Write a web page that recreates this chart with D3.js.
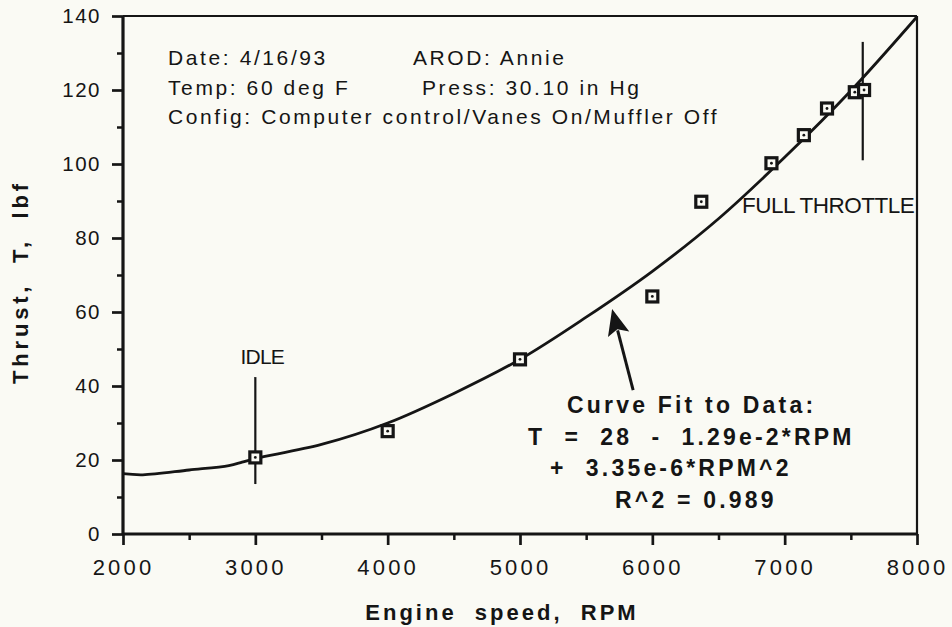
<!DOCTYPE html>
<html>
<head>
<meta charset="utf-8">
<script src="https://cdn.jsdelivr.net/npm/d3@7"></script>
<style>
  html, body { margin: 0; padding: 0; background: #fafaf4; }
  svg { display: block; }
  text { font-family: "Liberation Sans", Arial, Helvetica, sans-serif; fill: #151515; }
</style>
</head>
<body>
<svg id="chart" width="952" height="627"></svg>
<script>
// ---------------- data ----------------
const xTicks = [2000, 3000, 4000, 5000, 6000, 7000, 8000];
const xMinor = [2500, 3500, 4500, 5500, 6500, 7500];
const yTicks = [0, 20, 40, 60, 80, 100, 120, 140];
const yMinor = [10, 30, 50, 70, 90, 110, 130];

// measured thrust points (RPM, lbf)
const pointRPM    = [3000, 4000, 5000, 6000, 6370, 6900, 7145, 7320, 7530, 7600];
const pointThrust = [20.7, 27.8, 47.2, 64.2, 89.8, 100.2, 107.8, 115.0, 119.4, 120.0];

// fitted curve as drawn
const curveRPM    = [2000, 2150, 2500, 2800, 2900, 3000, 3500, 4000, 4500, 5000, 5500, 6000, 6500, 7000, 7500, 8000];
const curveThrust = [16.3, 16.0, 17.3, 18.5, 19.4, 20.4, 24.2, 30.0, 38.0, 47.2, 58.6, 71.0, 85.2, 101.8, 119.8, 139.8];

// range markers
const idleMarker     = { rpm: 3000, lo: 13.5, hi: 42.4 };
const throttleMarker = { rpm: 7590, lo: 101, hi: 133 };
// arrow (tail -> tip) in data units
const arrowTail = [5855, 38.9];
const arrowTip  = [5696, 60.8];

const headerLines = [
  ["Date: 4/16/93", "AROD: Annie"],
  ["Temp: 60 deg F", "Press: 30.10 in Hg"],
  ["Config: Computer control/Vanes On/Muffler Off", ""]
];
const fitLines = ["Curve Fit to Data:", "T  =  28  -  1.29e-2*RPM", "+  3.35e-6*RPM^2", "R^2 = 0.989"];

// ---------------- layout ----------------
const svg = d3.select("#chart");
const L = 123, T = 16, W = 794, H = 518;
const x = d3.scaleLinear().domain([2000, 8000]).range([L, L + W]);
const y = d3.scaleLinear().domain([0, 140]).range([T + H, T]);
const ink = "#151515";

// frame top/right
svg.append("line").attr("x1", L).attr("x2", L + W).attr("y1", T).attr("y2", T)
  .attr("stroke", ink).attr("stroke-width", 2.2);
svg.append("line").attr("x1", L + W).attr("x2", L + W).attr("y1", T).attr("y2", T + H)
  .attr("stroke", ink).attr("stroke-width", 2.2);

// minor ticks
svg.append("g").attr("transform", `translate(0,${T + H})`)
  .call(d3.axisBottom(x).tickValues(xMinor).tickSize(6).tickFormat(""))
  .call(g => { g.select(".domain").remove(); g.selectAll("line").attr("stroke", ink).attr("stroke-width", 2.5); });
svg.append("g").attr("transform", `translate(${L},0)`)
  .call(d3.axisLeft(y).tickValues(yMinor).tickSize(6).tickFormat(""))
  .call(g => { g.select(".domain").remove(); g.selectAll("line").attr("stroke", ink).attr("stroke-width", 2.5); });

// major axes
const xAxis = svg.append("g").attr("transform", `translate(0,${T + H})`)
  .call(d3.axisBottom(x).tickValues(xTicks).tickSize(11).tickPadding(14).tickFormat(d3.format("d")));
xAxis.select(".domain").attr("stroke", ink).attr("stroke-width", 3.2).attr("d", `M${L},0H${L + W}`);
xAxis.selectAll("line").attr("stroke", ink).attr("stroke-width", 2.7);
xAxis.selectAll("text").attr("font-size", 22).attr("letter-spacing", 3.2)
  .attr("fill", ink).style("font-family", "'Liberation Sans', Arial, sans-serif");

const yAxis = svg.append("g").attr("transform", `translate(${L},0)`)
  .call(d3.axisLeft(y).tickValues(yTicks).tickSize(11).tickPadding(11).tickFormat(d3.format("d")));
yAxis.select(".domain").attr("stroke", ink).attr("stroke-width", 3.2).attr("d", `M0,${T}V${T + H}`);
yAxis.selectAll("line").attr("stroke", ink).attr("stroke-width", 2.7);
yAxis.selectAll("text").attr("font-size", 20.5).attr("letter-spacing", 1.5)
  .attr("fill", ink).style("font-family", "'Liberation Sans', Arial, sans-serif");

// axis titles
svg.append("text").attr("x", 502).attr("y", 620).attr("text-anchor", "middle")
  .attr("font-size", 22).attr("font-weight", "bold").attr("letter-spacing", 3)
  .style("white-space", "pre").text("Engine  speed,  RPM");
svg.append("text").attr("transform", "translate(28,282) rotate(-90)").attr("text-anchor", "middle")
  .attr("font-size", 22).attr("font-weight", "bold").attr("letter-spacing", 3.8)
  .style("white-space", "pre").text("Thrust,  T,  lbf");

// curve
const curveData = curveRPM.map((r, i) => [r, curveThrust[i]]);
svg.append("path").datum(curveData)
  .attr("d", d3.line().x(d => x(d[0])).y(d => y(d[1])).curve(d3.curveCatmullRom.alpha(0.5)))
  .attr("fill", "none").attr("stroke", ink).attr("stroke-width", 2.8);

// range markers
[idleMarker, throttleMarker].forEach(m => {
  svg.append("line").attr("x1", x(m.rpm)).attr("x2", x(m.rpm))
    .attr("y1", y(m.lo)).attr("y2", y(m.hi)).attr("stroke", ink).attr("stroke-width", 2.2);
});

// points
const pts = svg.append("g").selectAll("g").data(pointRPM.map((r, i) => [r, pointThrust[i]])).join("g")
  .attr("transform", d => `translate(${x(d[0])},${y(d[1])})`);
pts.append("rect").attr("x", -5.5).attr("y", -5.5).attr("width", 11).attr("height", 11)
  .attr("fill", "#fafaf4").attr("stroke", ink).attr("stroke-width", 3.2);
pts.append("circle").attr("r", 1.4).attr("fill", ink);

// arrow
const tx = x(arrowTip[0]), ty = y(arrowTip[1]), sx = x(arrowTail[0]), sy = y(arrowTail[1]);
const len = Math.hypot(tx - sx, ty - sy), ux = (tx - sx) / len, uy = (ty - sy) / len;
const hl = 26, hw = 11;
const bx = tx - ux * hl, by = ty - uy * hl;
svg.append("line").attr("x1", sx).attr("y1", sy).attr("x2", bx + ux * 4).attr("y2", by + uy * 4)
  .attr("stroke", ink).attr("stroke-width", 3);
svg.append("path")
  .attr("d", `M${tx},${ty}L${bx - uy * hw},${by + ux * hw}L${tx - ux * hl * 0.8},${ty - uy * hl * 0.8}L${bx + uy * hw},${by - ux * hw}Z`)
  .attr("fill", ink);

// header text
const hdr = svg.append("g").attr("font-size", 21).attr("letter-spacing", 2.6);
headerLines.forEach((ln, i) => {
  hdr.append("text").attr("x", 168).attr("y", 65 + i * 29.5).style("white-space", "pre").text(ln[0]);
  if (ln[1]) hdr.append("text").attr("x", i === 0 ? 413 : 422).attr("y", 65 + i * 29.5).text(ln[1]);
});

// IDLE / FULL THROTTLE
svg.append("text").attr("x", x(idleMarker.rpm) + 7).attr("y", 364).attr("text-anchor", "middle")
  .attr("font-size", 21).attr("letter-spacing", -0.8).text("IDLE");
svg.append("text").attr("x", 742).attr("y", 213)
  .attr("font-size", 22.5).attr("letter-spacing", -0.5).text("FULL THROTTLE");

// fit text
const fitX = [567, 528, 550, 615];
const fit = svg.append("g").attr("font-size", 23).attr("font-weight", "bold").attr("letter-spacing", 3.2);
fitLines.forEach((t, i) => {
  fit.append("text").attr("x", fitX[i]).attr("y", 413 + i * 31.7).style("white-space", "pre").text(t);
});
</script>
</body>
</html>
